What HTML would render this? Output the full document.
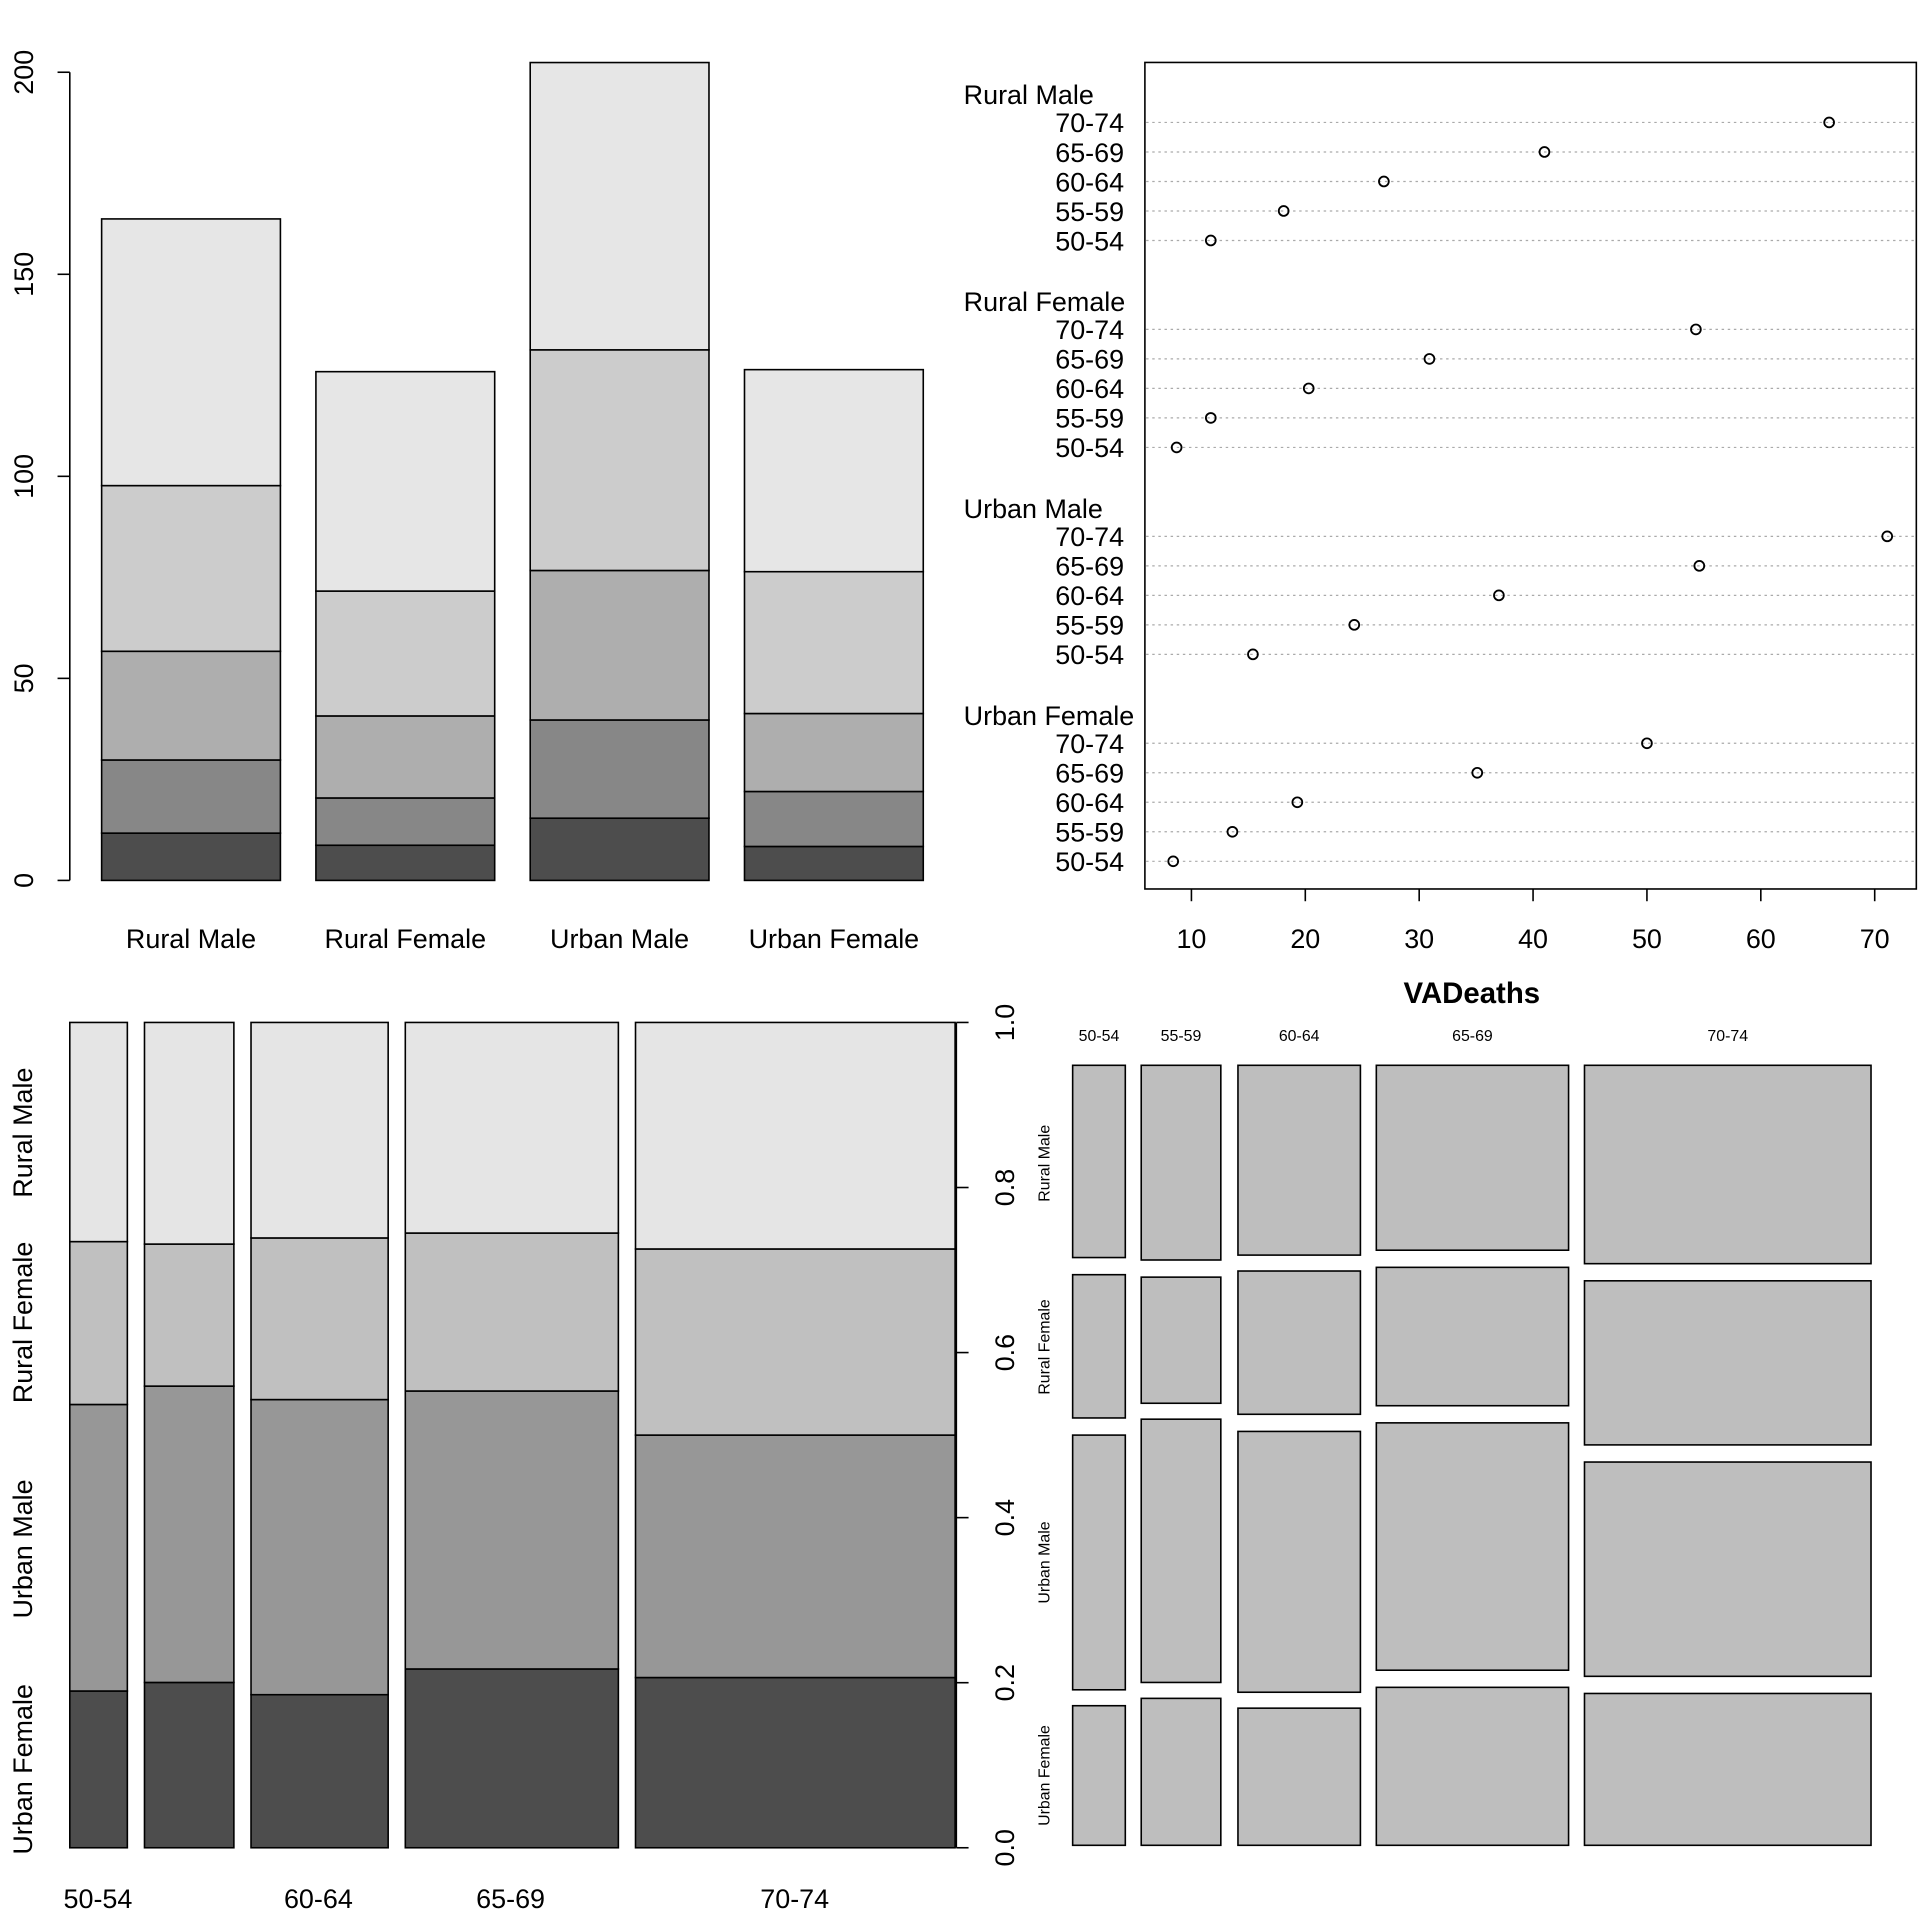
<!DOCTYPE html>
<html><head><meta charset="utf-8"><style>html,body{margin:0;padding:0;background:#fff}svg{display:block}text{font-family:"Liberation Sans",Arial,sans-serif;fill:#000}</style></head>
<body>
<svg width="1920" height="1920" viewBox="0 0 1568 1568" xmlns="http://www.w3.org/2000/svg">
<rect width="1568" height="1568" fill="#fff"/>
<g id="tl"></g><g id="tr"></g><g id="bl"></g><g id="br"></g>
</svg>
<script>
const NS="http://www.w3.org/2000/svg";
function el(p,t,a,txt){const e=document.createElementNS(NS,t);for(const k in a)e.setAttribute(k,a[k]);if(txt!==undefined)e.textContent=txt;p.appendChild(e);return e;}
const D={"Rural Male":[11.7,18.1,26.9,41.0,66.0],"Rural Female":[8.7,11.7,20.3,30.9,54.3],"Urban Male":[15.4,24.3,37.0,54.6,71.1],"Urban Female":[8.4,13.6,19.3,35.1,50.0]};
const G=Object.keys(D);const ages=["50-54","55-59","60-64","65-69","70-74"];
const cols=["#4d4d4d","#878787","#aeaeae","#cccccc","#e6e6e6"];
// top-left
let g=document.getElementById("tl");
const bx=[83,258,433,608];
G.forEach((n,i)=>{let c=0;D[n].forEach((v,j)=>{const y1=719-c*3.3,y2=719-(c+v)*3.3;el(g,"rect",{x:bx[i],y:y2,width:146,height:y1-y2,fill:cols[j],stroke:"#000","stroke-width":1.3});c+=v;});
el(g,"text",{x:bx[i]+73,y:774,"font-size":22,"text-anchor":"middle"},n);});
el(g,"line",{x1:57,y1:59,x2:57,y2:719,stroke:"#000","stroke-width":1.3});
[0,50,100,150,200].forEach(v=>{const y=719-v*3.3;el(g,"line",{x1:47,y1:y,x2:57,y2:y,stroke:"#000","stroke-width":1.3});el(g,"text",{x:27,y:y,"font-size":22,"text-anchor":"middle",transform:`rotate(-90 27 ${y})`},v);});
// top-right
g=document.getElementById("tr");
el(g,"rect",{x:935,y:51,width:630,height:675,fill:"none",stroke:"#000","stroke-width":1.3});
const X=v=>973+(v-10)*9.3;
G.forEach((n,gi)=>{el(g,"text",{x:787,y:85+gi*169,"font-size":22},n);
for(let r=0;r<5;r++){const y=100+gi*169+r*24.1;const v=D[n][4-r];
el(g,"line",{x1:936,y1:y,x2:1564,y2:y,stroke:"#aaa","stroke-width":1,"stroke-dasharray":"2,3"});
el(g,"circle",{cx:X(v),cy:y,r:4,fill:"none",stroke:"#000","stroke-width":1.5});
el(g,"text",{x:918,y:y+8,"font-size":22,"text-anchor":"end"},ages[4-r]);}});
[10,20,30,40,50,60,70].forEach(v=>{el(g,"line",{x1:X(v),y1:726,x2:X(v),y2:736,stroke:"#000","stroke-width":1.3});el(g,"text",{x:X(v),y:774,"font-size":22,"text-anchor":"middle"},v);});
// bottom-left
g=document.getElementById("bl");
const sx=[[57,104],[118,191],[205,317],[331,505],[519,780]];
const b=[[1381,1147,1014],[1374,1132,1016],[1384,1143,1011],[1363,1136,1007],[1370,1172,1020]];
const c2=["#4d4d4d","#979797","#c0c0c0","#e5e5e5"];
sx.forEach((s,i)=>{const ys=[1509,...b[i],835];for(let k=0;k<4;k++)el(g,"rect",{x:s[0],y:ys[k+1],width:s[1]-s[0],height:ys[k]-ys[k+1],fill:c2[k],stroke:"#000","stroke-width":1.3});});
el(g,"line",{x1:781,y1:835,x2:781,y2:1509,stroke:"#000","stroke-width":1.3});
[0,0.2,0.4,0.6,0.8,1].forEach(v=>{const y=1509-v*674;el(g,"line",{x1:781,y1:y,x2:791,y2:y,stroke:"#000","stroke-width":1.3});el(g,"text",{x:828,y:y,"font-size":22,"text-anchor":"middle",transform:`rotate(-90 828 ${y})`},v.toFixed(1));});
[["Rural Male",925],["Rural Female",1080],["Urban Male",1265],["Urban Female",1445]].forEach(([t,y])=>el(g,"text",{x:26,y:y,"font-size":22,"text-anchor":"middle",transform:`rotate(-90 26 ${y})`},t));
[["50-54",80],["60-64",260],["65-69",417],["70-74",649]].forEach(([t,x])=>el(g,"text",{x:x,y:1558,"font-size":22,"text-anchor":"middle"},t));
// bottom-right
g=document.getElementById("br");
el(g,"text",{x:1202,y:819,"font-size":24,"font-weight":"bold","text-anchor":"middle"},"VADeaths");
const mc=[[876,919],[932,997],[1011,1111],[1124,1281],[1294,1528]];
const mr=[[[870,1027],[1041,1158],[1172,1380],[1393,1507]],[[870,1029],[1043,1146],[1159,1374],[1387,1507]],[[870,1025],[1038,1155],[1169,1382],[1395,1507]],[[870,1021],[1035,1148],[1162,1364],[1378,1507]],[[870,1032],[1046,1180],[1194,1369],[1383,1507]]];
mc.forEach((c,i)=>{el(g,"text",{x:(c[0]+c[1])/2,y:850,"font-size":13,"text-anchor":"middle"},ages[i]);
mr[i].forEach(r=>el(g,"rect",{x:c[0],y:r[0],width:c[1]-c[0],height:r[1]-r[0],fill:"#bebebe",stroke:"#000","stroke-width":1.3}));});
[["Rural Male",950],["Rural Female",1100],["Urban Male",1276],["Urban Female",1450]].forEach(([t,y])=>el(g,"text",{x:857,y:y,"font-size":13,"text-anchor":"middle",transform:`rotate(-90 857 ${y})`},t));
</script>
</body></html>
